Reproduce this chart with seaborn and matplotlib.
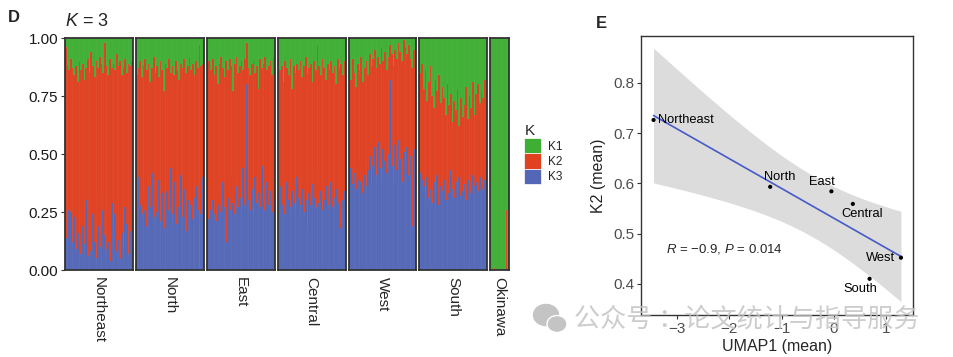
import numpy as np
import pandas as pd
import matplotlib
matplotlib.use("Agg")
import matplotlib.pyplot as plt
from matplotlib.patches import Patch, Ellipse
import seaborn as sns

# ancestry proportions per individual (K1 = top/green, K3 = bottom/blue, K2 = rest)
groups = ["Northeast", "North", "East", "Central", "West", "South", "Okinawa"]

northeast_k1 = [0.04, 0.12, 0.14, 0.09, 0.13, 0.16, 0.12, 0.19, 0.10, 0.14, 0.11, 0.18, 0.13, 0.09, 0.15, 0.06, 0.12, 0.17, 0.10, 0.13,
                0.08, 0.11, 0.15, 0.02, 0.12, 0.16, 0.09, 0.13, 0.11, 0.14, 0.07, 0.12, 0.10, 0.16, 0.13, 0.09, 0.15, 0.11, 0.12, 0.10]
northeast_k3 = [0.14, 0.17, 0.26, 0.25, 0.12, 0.23, 0.09, 0.16, 0.13, 0.07, 0.19, 0.11, 0.30, 0.06, 0.14, 0.08, 0.24, 0.12, 0.05, 0.19,
                0.10, 0.33, 0.26, 0.15, 0.09, 0.12, 0.04, 0.29, 0.18, 0.24, 0.08, 0.13, 0.05, 0.16, 0.10, 0.27, 0.20, 0.07, 0.17, 0.46]
north_k1 = [0.16, 0.13, 0.10, 0.17, 0.12, 0.09, 0.14, 0.11, 0.19, 0.13, 0.08, 0.15, 0.12, 0.17, 0.10, 0.14, 0.23, 0.11, 0.13, 0.09,
            0.15, 0.12, 0.16, 0.10, 0.14, 0.18, 0.11, 0.13, 0.09, 0.15, 0.12, 0.08, 0.14, 0.11, 0.16, 0.10, 0.13, 0.03, 0.12, 0.11]
north_k3 = [0.22, 0.40, 0.28, 0.24, 0.31, 0.26, 0.19, 0.36, 0.27, 0.42, 0.23, 0.30, 0.25, 0.39, 0.21, 0.33, 0.18, 0.29, 0.34, 0.26,
            0.44, 0.24, 0.38, 0.20, 0.32, 0.27, 0.41, 0.23, 0.35, 0.17, 0.30, 0.25, 0.28, 0.22, 0.31, 0.36, 0.26, 0.01, 0.24, 0.40]
east_k1 = [0.07, 0.10, 0.14, 0.09, 0.16, 0.12, 0.20, 0.11, 0.08, 0.13, 0.17, 0.10, 0.14, 0.09, 0.12, 0.23, 0.11, 0.08, 0.15, 0.12,
           0.10, 0.14, 0.09, 0.02, 0.13, 0.16, 0.11, 0.10, 0.15, 0.12, 0.22, 0.09, 0.13, 0.11, 0.08, 0.14, 0.12, 0.10, 0.16, 0.09]
east_k3 = [0.23, 0.22, 0.26, 0.30, 0.24, 0.21, 0.28, 0.33, 0.25, 0.38, 0.27, 0.12, 0.31, 0.26, 0.42, 0.29, 0.24, 0.36, 0.27, 0.31,
           0.25, 0.44, 0.28, 0.80, 0.30, 0.26, 0.35, 0.24, 0.40, 0.29, 0.33, 0.27, 0.45, 0.31, 0.26, 0.38, 0.28, 0.34, 0.25, 0.30]
central_k1 = [0.08, 0.14, 0.12, 0.19, 0.10, 0.13, 0.16, 0.09, 0.22, 0.12, 0.15, 0.11, 0.14, 0.10, 0.17, 0.12, 0.08, 0.15, 0.13, 0.11,
              0.19, 0.10, 0.14, 0.03, 0.12, 0.16, 0.09, 0.13, 0.18, 0.11, 0.14, 0.10, 0.15, 0.12, 0.20, 0.09, 0.13, 0.11, 0.16, 0.10]
central_k3 = [0.29, 0.36, 0.28, 0.32, 0.24, 0.38, 0.30, 0.27, 0.34, 0.29, 0.26, 0.40, 0.31, 0.28, 0.35, 0.25, 0.30, 0.19, 0.33, 0.28,
              0.37, 0.31, 0.27, 0.42, 0.29, 0.34, 0.26, 0.30, 0.36, 0.28, 0.32, 0.38, 0.27, 0.31, 0.35, 0.29, 0.33, 0.18, 0.30, 0.34]
west_k1 = [0.12, 0.18, 0.09, 0.15, 0.21, 0.11, 0.14, 0.08, 0.19, 0.13, 0.10, 0.16, 0.07, 0.12, 0.09, 0.05, 0.13, 0.08, 0.11, 0.04,
           0.10, 0.06, 0.14, 0.08, 0.03, 0.07, 0.12, 0.05, 0.09, 0.02, 0.06, 0.10, 0.01, 0.04, 0.07, 0.03, 0.09, 0.13, 0.05, 0.08]
west_k3 = [0.40, 0.44, 0.37, 0.42, 0.35, 0.39, 0.46, 0.38, 0.33, 0.41, 0.36, 0.43, 0.49, 0.38, 0.45, 0.53, 0.41, 0.55, 0.44, 0.39,
           0.52, 0.47, 0.42, 0.50, 0.82, 0.45, 0.40, 0.54, 0.43, 0.56, 0.48, 0.38, 0.51, 0.46, 0.53, 0.41, 0.49, 0.19, 0.52, 0.47]
south_k1 = [0.15, 0.11, 0.22, 0.14, 0.27, 0.19, 0.12, 0.25, 0.30, 0.18, 0.23, 0.16, 0.28, 0.21, 0.26, 0.33, 0.20, 0.29, 0.24, 0.36,
            0.27, 0.31, 0.22, 0.38, 0.26, 0.34, 0.29, 0.21, 0.35, 0.25, 0.30, 0.19, 0.33, 0.24, 0.20, 0.28, 0.23, 0.26, 0.18, 0.22]
south_k3 = [0.42, 0.39, 0.36, 0.32, 0.40, 0.31, 0.35, 0.29, 0.38, 0.33, 0.41, 0.28, 0.36, 0.34, 0.39, 0.30, 0.37, 0.33, 0.43, 0.35,
            0.31, 0.38, 0.36, 0.40, 0.32, 0.34, 0.37, 0.30, 0.39, 0.35, 0.33, 0.41, 0.36, 0.38, 0.34, 0.40, 0.37, 0.35, 0.39, 0.44]
okinawa_k1 = [1.00, 1.00, 0.99, 1.00, 1.00, 1.00, 0.99, 1.00, 1.00, 0.74, 1.00]
okinawa_k3 = [0.00, 0.00, 0.00, 0.00, 0.00, 0.00, 0.00, 0.00, 0.00, 0.00, 0.00]

k1_by_group = [northeast_k1, north_k1, east_k1, central_k1, west_k1, south_k1, okinawa_k1]
k3_by_group = [northeast_k3, north_k3, east_k3, central_k3, west_k3, south_k3, okinawa_k3]

# panel E: group means
region_labels = ["Northeast", "North", "East", "Central", "West", "South"]
umap1_mean = [-3.45, -1.22, -0.05, 0.36, 1.28, 0.68]
k2_mean = [0.726, 0.593, 0.584, 0.559, 0.452, 0.410]

col_k1, col_k2, col_k3 = "#3FAE34", "#DF4121", "#5467B6"

sns.set_theme(style="white")
plt.rcParams['font.family'] = ['Liberation Sans', 'Noto Sans CJK SC']
plt.rcParams['mathtext.fontset'] = 'custom'
plt.rcParams['mathtext.it'] = 'Liberation Sans:italic'
plt.rcParams['mathtext.rm'] = 'Liberation Sans'

W, H = 954, 357
fig = plt.figure(figsize=(W / 100, H / 100), dpi=100)

def fx(px):
    return px / W

def fy(py):
    return 1 - py / H

# ---- panel D: structure plot facets
n_per = [len(a) for a in k1_by_group]
left, right, gap = 65, 509, 3
avail = right - left - gap * (len(groups) - 1)
y_bot, y_top = 270, 38
x0 = left
for i, g in enumerate(groups):
    w = avail * n_per[i] / sum(n_per)
    ax = fig.add_axes([fx(x0), fy(y_bot), fx(w), (y_bot - y_top) / H])
    x0 += w + gap
    a1 = np.array(k1_by_group[i])
    a3 = np.array(k3_by_group[i])
    a2 = 1 - a1 - a3
    idx = np.arange(len(a1))
    for heights, c in [(a1 + a2 + a3, col_k1), (a2 + a3, col_k2), (a3, col_k3)]:
        sns.barplot(x=idx, y=heights, color=c, width=1, saturation=1, errorbar=None,
                    linewidth=0.2, edgecolor=(1, 1, 1, 0.12), ax=ax)
    ax.set_xlim(-0.5, len(a1) - 0.5)
    ax.set_ylim(0, 1)
    ax.set_xticks([])
    ax.set_xlabel("")
    ax.set_ylabel("")
    for s in ax.spines.values():
        s.set_color("#333333")
        s.set_linewidth(1.3)
    ax.text(0.5, -0.03, g, transform=ax.transAxes, rotation=270, ha='center', va='top', fontsize=11)
    if i == 0:
        ax.set_yticks([0, 0.25, 0.5, 0.75, 1.0])
        ax.set_yticklabels(["0.00", "0.25", "0.50", "0.75", "1.00"], fontsize=11, color="#1a1a1a")
        ax.tick_params(axis='y', length=3, width=0.8, color="#333333", left=True, pad=2)
    else:
        ax.set_yticks([])

fig.text(fx(8), fy(18), "D", fontsize=12, fontweight='bold', va='center')
fig.text(fx(65), fy(22), r"$K$ = 3", fontsize=13, va='center')

handles = [Patch(facecolor=c, edgecolor='white', linewidth=0.5) for c in [col_k1, col_k2, col_k3]]
fig.legend(handles, ["K1", "K2", "K3"], title="K", loc='upper left',
           bbox_to_anchor=(fx(516), fy(116)), frameon=False, fontsize=8.5, title_fontsize=11,
           handlelength=1.45, handleheight=1.6, labelspacing=0.0, handletextpad=0.6,
           alignment='left', borderpad=0.2)

# ---- panel E: regression
ax_e = fig.add_axes([fx(641), fy(315), fx(272), (315 - 36) / H])
x = np.array(umap1_mean)
y = np.array(k2_mean)
slope, intercept = np.polyfit(x, y, 1)
xs = np.linspace(x.min(), x.max(), 200)
fit = intercept + slope * xs
n = len(x)
resid = y - (intercept + slope * x)
s_err = np.sqrt(np.sum(resid ** 2) / (n - 2))
se = s_err * np.sqrt(1 / n + (xs - x.mean()) ** 2 / np.sum((x - x.mean()) ** 2))
t_crit = 2.776
ax_e.fill_between(xs, fit - t_crit * se, fit + t_crit * se, color="#DCDCDC", linewidth=0, zorder=1)
sns.lineplot(x=xs, y=fit, color="#4659C8", linewidth=1.2, ax=ax_e, zorder=2)
sns.scatterplot(x=x, y=y, color="black", s=9, edgecolor='none', ax=ax_e, zorder=3)

label_offsets = {"Northeast": (3, 0, 'left'), "North": (7, 7, 'center'), "East": (-7, 7, 'center'),
                 "Central": (7, -7, 'center'), "West": (-4, 0, 'right'), "South": (-7, -7, 'center')}
for lab, xi, yi in zip(region_labels, x, y):
    dx, dy, ha = label_offsets[lab]
    ax_e.annotate(lab, (xi, yi), xytext=(dx, dy), textcoords='offset points',
                  ha=ha, va='center', fontsize=9.3, color="black")

ax_e.text(-3.22, 0.47, r"$R$ = $-$0.9, $P$ = 0.014", fontsize=9.5, va='center')
ax_e.set_xlim(-3.69, 1.51)
ax_e.set_ylim(0.338, 0.893)
ax_e.set_xticks([-3, -2, -1, 0, 1])
ax_e.set_xticklabels(["\u22123", "\u22122", "\u22121", "0", "1"])
ax_e.set_yticks([0.4, 0.5, 0.6, 0.7, 0.8])
ax_e.tick_params(axis='both', labelsize=11, labelcolor="#4D4D4D", length=3, width=0.8,
                 color="#333333", left=True, bottom=True, pad=2)
ax_e.set_xlabel("UMAP1 (mean)", fontsize=11.5, labelpad=2)
ax_e.set_ylabel("K2 (mean)", fontsize=11.5, labelpad=5)
for s in ax_e.spines.values():
    s.set_color("#333333")
    s.set_linewidth(1.0)
fig.text(fx(596), fy(23), "E", fontsize=12, fontweight='bold', va='center')

# watermark
wm = "#C4C4C4"
fig.patches.append(Ellipse((fx(546), fy(315)), fx(25), 21 / H, color=wm, transform=fig.transFigure, zorder=10))
fig.patches.append(Ellipse((fx(557), fy(324)), fx(20), 17 / H, color=wm, transform=fig.transFigure, zorder=11,
                           ec='white', lw=1))
fig.text(fx(574), fy(319), "公众号 ：论文统计与指导服务", fontsize=18.8, color=wm, alpha=0.85,
         va='center', ha='left', zorder=12, family=['Noto Sans CJK SC', 'DejaVu Sans'])

fig.savefig("out.png", dpi=100)
